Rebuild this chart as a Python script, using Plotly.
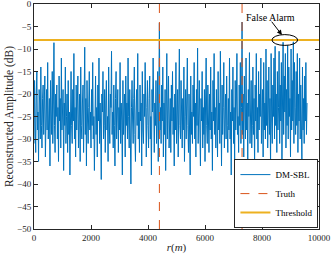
import numpy as np
import plotly.graph_objects as go

step = 20
amp_db = [
    -31, -17, -26, -33, -20, -15, -28, -24, -35, -19, -22, -30, -14, -27, -32, -21, -18, -29, -25, -16,
    -34, -23, -19, -28, -13, -30, -26, -21, -36, -17, -24, -29, -15, -31, -22, -8.6, -27, -33, -20, -25,
    -18, -30, -23, -35, -16, -26, -21, -32, -12, -28, -24, -19, -37, -22, -27, -14, -31, -25, -20, -33,
    -17, -29, -24, -38, -21, -15, -27, -31, -19, -26, -11, -30, -23, -34, -18, -28, -22, -16, -32, -25,
    -20, -35, -14, -27, -30, -22, -18, -33, -25, -9.6, -29, -21, -36, -17, -26, -31, -23, -15, -28, -24,
    -32, -19, -27, -13, -30, -25, -37, -21, -16, -29, -23, -34, -18, -26, -12, -31, -22, -28, -39, -20,
    -24, -15, -30, -27, -19, -33, -22, -17, -28, -25, -35, -14, -26, -31, -20, -23, -10.5, -29, -24, -32,
    -18, -27, -36, -21, -15, -30, -25, -19, -33, -23, -28, -13, -31, -22, -26, -38, -17, -29, -24, -20,
    -34, -16, -27, -22, -30, -12, -25, -32, -19, -28, -40, -23, -17, -26, -31, -21, -14, -29, -35, -24,
    -19, -27, -11, -30, -24, -33, -18, -26, -22, -36, -15, -28, -31, -20, -25, -13, -29, -34, -23, -17,
    -27, -32, -21, -16, -30, -25, -38, -19, -24, -12, -29, -33, -22, -27, -17, -31, -26, -15, -35, -20,
    -4.2, -28, -23, -31, -18, -26, -14, -34, -22, -29, -19, -37, -25, -11, -30, -24, -16, -32, -27, -21,
    -33, -18, -26, -15, -29, -23, -36, -20, -28, -13, -31, -25, -19, -34, -22, -10, -27, -30, -17, -24,
    -32, -21, -28, -14, -35, -25, -19, -30, -23, -12, -27, -33, -20, -26, -38, -16, -29, -24, -31, -18,
    -25, -13, -30, -22, -34, -19, -27, -9.8, -31, -24, -17, -28, -36, -21, -26, -15, -32, -23, -29, -19,
    -35, -22, -12, -27, -31, -18, -25, -33, -20, -28, -14, -30, -24, -37, -17, -26, -11, -29, -23, -32,
    -19, -27, -34, -15, -28, -22, -31, -10.5, -25, -36, -18, -29, -23, -13, -32, -26, -20, -30, -16, -27,
    -33, -21, -28, -12, -30, -24, -38, -19, -26, -14, -31, -23, -35, -17, -28, -22, -11, -29, -25, -33,
    -18, -27, -13, -31, -23, -4.0, -29, -20, -34, -16, -26, -30, -12, -28, -22, -35, -19, -25, -10.8, -31,
    -24, -17, -32, -27, -14, -29, -21, -36, -18, -26, -11, -30, -23, -33, -15, -28, -20, -25, -12, -31,
    -26, -19, -34, -13, -28, -22, -30, -10, -27, -17, -32, -24, -14, -29, -21, -36, -11, -26, -31, -18,
    -25, -12, -30, -9.4, -27, -20, -33, -15, -28, -23, -10.5, -31, -18, -26, -13, -35, -22, -8.5, -29, -16,
    -24, -11, -32, -19, -27, -9.2, -30, -14, -25, -21, -34, -10, -28, -17, -26, -8.4, -31, -13, -23, -29,
    -15, -27, -11, -33, -20, -26, -12, -30, -18, -24, -35, -14, -28, -21, -31, -16, -26, -13, -29, -22,
]
r = np.arange(len(amp_db)) * step

truth_r = [4400, 7300]
threshold_db = -8
x_range = [0, 10000]
y_range = [-50, 0]
x_ticks = [0, 2000, 4000, 6000, 8000, 10000]
y_ticks = [0, -5, -10, -15, -20, -25, -30, -35, -40, -45, -50]

font_family = "Liberation Serif, Times New Roman, serif"

fig = go.Figure()
fig.add_trace(go.Scatter(x=r, y=amp_db, mode="lines", name="DM-SBL",
                         line=dict(color="#0072BD", width=1)))
tx, ty = [], []
for t in truth_r:
    tx += [t, t, None]
    ty += [y_range[0], y_range[1], None]
fig.add_trace(go.Scatter(x=tx, y=ty, mode="lines", name="Truth",
                         line=dict(color="#D95319", width=1, dash="dash")))
fig.add_trace(go.Scatter(x=x_range, y=[threshold_db, threshold_db], mode="lines",
                         name="Threshold", line=dict(color="#EDB120", width=2)))

fig.add_shape(type="circle", xref="x", yref="y", x0=8350, x1=9250, y0=-9.2, y1=-6.8,
              line=dict(color="black", width=1))
fig.add_annotation(x=8700, y=-6.9, ax=8300, ay=-3.6, xref="x", yref="y", axref="x", ayref="y",
                   text="", showarrow=True, arrowhead=2, arrowsize=1, arrowwidth=1, arrowcolor="black")
fig.add_annotation(x=8300, y=-2.9, xref="x", yref="y", text="False Alarm", showarrow=False,
                   font=dict(size=10, color="black", family=font_family))

axis_common = dict(showgrid=False, zeroline=False, showline=True, linecolor="#262626", linewidth=1,
                   mirror="ticks", ticks="inside", ticklen=4, tickcolor="#262626", automargin=False,
                   ticklabeloverflow="allow", tickformat="d",
                   tickfont=dict(size=9, color="#262626", family=font_family))
fig.update_xaxes(range=x_range, tickvals=x_ticks, title=dict(text="<i>r</i>(<i>m</i>)", standoff=1,
                 font=dict(size=11, family=font_family, color="#262626")), **axis_common)
fig.update_yaxes(range=y_range, tickvals=y_ticks, title=dict(text="Reconstructed Amplitude (dB)", standoff=1,
                 font=dict(size=11.5, family=font_family, color="#262626")), **axis_common)

fig.update_layout(
    width=332, height=259,
    margin=dict(l=34, r=13, t=4, b=30),
    paper_bgcolor="white", plot_bgcolor="white",
    showlegend=True,
    legend=dict(x=0.998, y=0.004, xanchor="right", yanchor="bottom",
                bgcolor="white", bordercolor="#262626", borderwidth=1,
                font=dict(size=9, family=font_family, color="black"),
                itemwidth=30, tracegroupgap=0),
)
fig.write_html("out.html", config={"displayModeBar": False},
               post_script="document.body.style.margin='0px';")
